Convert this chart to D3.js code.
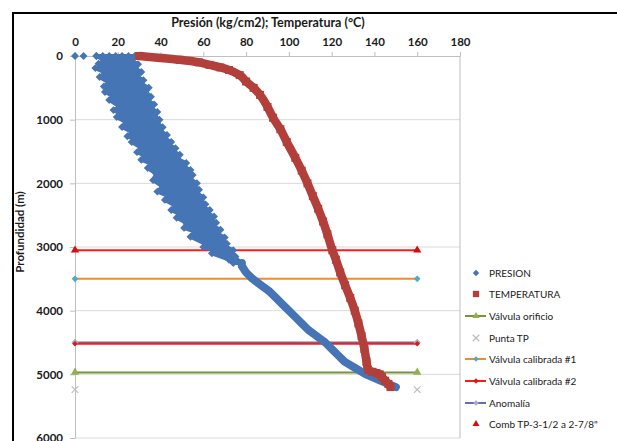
<!DOCTYPE html>
<html>
<head>
<meta charset="utf-8">
<script src="https://cdn.jsdelivr.net/npm/d3@7"></script>
<style>
  html, body { margin: 0; padding: 0; background: #fff; }
  svg { display: block; font-family: Lato, "Liberation Sans", Arial, sans-serif; }
</style>
</head>
<body>
<svg id="chart" width="617" height="441"></svg>
<script>
// Axis ticks
const xTicks = [0, 20, 40, 60, 80, 100, 120, 140, 160, 180];
const yTicks = [0, 1000, 2000, 3000, 4000, 5000, 6000];

// PRESION: surface readings at 0 m
const presionSupProf = [0, 0, 0, 0, 0, 0, 0, 0, 0];
const presionSupVal  = [0, 4, 10, 13, 16, 19, 22, 25, 28];

// PRESION: low side of the oscillating readings, 0-3250 m
const bajaProf = [0, 70, 120, 160, 190, 260, 330, 420, 480, 530, 565, 630, 690, 800, 850, 920, 960, 1040, 1115, 1200,
                  1260, 1310, 1350, 1440, 1510, 1570, 1630, 1700, 1760, 1850, 1950, 2050, 2130, 2200, 2260, 2350, 2420, 2480,
                  2540, 2620, 2700, 2760, 2840, 2950, 3000, 3050, 3100, 3200, 3250];
const bajaVal  = [10, 14, 11, 14, 9.5, 14, 11.5, 16, 13.5, 17, 14, 18, 16, 21, 18, 22, 19.5, 24, 22, 27,
                  24.5, 28, 26.5, 31, 29, 33, 31, 36, 34, 38, 36.5, 41, 38.5, 44, 42, 47, 45, 49,
                  47.5, 52, 51, 56, 54, 61, 60, 65, 64, 72, 74];

// PRESION: high side of the oscillating readings, 0-3250 m
const altaProf = [0, 70, 130, 190, 250, 320, 380, 440, 500, 570, 640, 700, 760, 820, 880, 940, 1000, 1060, 1120, 1180,
                  1240, 1300, 1350, 1400, 1450, 1500, 1550, 1620, 1680, 1740, 1790, 1830, 1870, 1940, 2000, 2050, 2100, 2160,
                  2220, 2280, 2330, 2380, 2420, 2470, 2520, 2570, 2620, 2680, 2730, 2790, 2850, 2900, 2950, 3000, 3050, 3100,
                  3150, 3200, 3250];
const altaVal  = [28.5, 26.5, 29.5, 28, 31, 29, 32, 31, 34.5, 33, 35.5, 34, 37, 35.5, 38.5, 37, 39.5, 38.5, 41, 40,
                  43, 42, 45, 44, 47, 46, 49, 48, 52, 51, 54, 52.5, 55, 54, 57, 55.5, 58, 57,
                  60, 59, 61, 60, 63, 62, 65, 63.5, 66, 65, 68, 66.5, 70, 69, 71, 70.5, 74, 73,
                  75, 75.5, 78];

// PRESION: single trace below 3300 m
const colaProf = [3300, 3400, 3500, 3600, 3700, 3800, 3900, 4000, 4100, 4200, 4300, 4400, 4500, 4600, 4700, 4800, 4900, 5000, 5100, 5200];
const colaVal  = [78, 80, 83, 87, 91, 94, 97, 100, 103, 106, 109, 113, 117, 120, 123, 126, 131, 136, 143, 150];

// TEMPERATURA
const tempProf = [0, 30, 60, 100, 140, 180, 220, 300, 400, 500, 610, 800, 970, 1150, 1350, 1600, 1800, 2000, 2200, 2400,
                  2600, 2800, 3050, 3200, 3400, 3600, 3800, 4000, 4200, 4400, 4600, 4800, 4930, 4960, 4980, 5000, 5040, 5100, 5150, 5200];
const tempVal  = [30, 40, 49, 58, 63, 68, 72, 77, 80, 83.5, 86.5, 90, 92.6, 96, 99, 103, 106, 108.7, 111.2, 113.7,
                  116, 118, 120.3, 122, 124, 126.3, 128.7, 130.8, 132.5, 134, 135.3, 136.3, 137, 139, 141, 142.5, 143.5, 145, 146.5, 147.5];

// Reference depths (m), drawn from 0 to 160 on the x scale
const refNombres = ["Comb TP-3-1/2 a 2-7/8\"", "Válvula calibrada #1", "Anomalía", "Válvula calibrada #2", "Válvula orificio", "Punta TP"];
const refProf    = [3050, 3500, 4500, 4520, 4970, 5240];
const refX       = [0, 160];

const legendNames = ["PRESION", "TEMPERATURA", "Válvula orificio", "Punta TP", "Válvula calibrada #1",
                     "Válvula calibrada #2", "Anomalía", "Comb TP-3-1/2 a 2-7/8\""];

const C = {
  presion: "#4675b5",
  temp: "#b33f3b",
  orificioLine: "#77933c", orificioMark: "#8fb04a",
  punta: "#bdbdbd",
  cal1Line: "#f38b2a", cal1Mark: "#4bacc6",
  cal2Line: "#ff1a1a", cal2Mark: "#d0201a",
  anomLine: "#5a74b0", anomMark: "#b0a4d2",
  comb: "#d01010",
  grid: "#d9d9d9", axis: "#bfbfbf", text: "#1a1a1a"
};

const svg = d3.select("#chart");

// outer frame of the chart object
svg.append("rect").attr("x", 13).attr("y", 13).attr("width", 700).attr("height", 500)
  .attr("fill", "#fff").attr("stroke", "#000").attr("stroke-width", 2);

const x = d3.scaleLinear().domain([0, 180]).range([75, 460]);
const y = d3.scaleLinear().domain([0, 6000]).range([56, 438]);

// horizontal gridlines
svg.append("g").selectAll("line").data(yTicks.slice(1)).join("line")
  .attr("x1", x(0)).attr("x2", x(180))
  .attr("y1", d => y(d)).attr("y2", d => y(d))
  .attr("stroke", C.grid).attr("stroke-width", 1);

// plot right border
svg.append("line").attr("x1", x(180)).attr("x2", x(180)).attr("y1", y(0)).attr("y2", y(6000))
  .attr("stroke", C.axis);

// top axis
const xAxis = svg.append("g").attr("transform", `translate(0,${y(0)})`)
  .call(d3.axisTop(x).tickValues(xTicks).tickSize(4).tickSizeOuter(0).tickPadding(6));
xAxis.select(".domain").attr("stroke", C.axis);
xAxis.selectAll(".tick line").attr("stroke", C.axis);
xAxis.selectAll("text").attr("font-size", 11.5).attr("font-weight", "bold").attr("fill", C.text)
  .attr("font-family", "Lato, sans-serif");

// left axis
const yAxis = svg.append("g").attr("transform", `translate(${x(0)},0)`)
  .call(d3.axisLeft(y).tickValues(yTicks).tickSize(5).tickSizeOuter(0).tickPadding(7).tickFormat(d3.format("d")));
yAxis.select(".domain").attr("stroke", C.axis);
yAxis.selectAll(".tick line").attr("stroke", C.axis);
yAxis.selectAll("text").attr("font-size", 11.5).attr("font-weight", "bold").attr("fill", C.text)
  .attr("font-family", "Lato, sans-serif");

// axis titles
svg.append("text").attr("x", 268).attr("y", 27).attr("text-anchor", "middle")
  .attr("font-size", 12.5).attr("font-weight", "bold").attr("fill", C.text)
  .text("Presión (kg/cm2); Temperatura (°C)");
svg.append("text").attr("transform", "translate(24,232) rotate(-90)").attr("text-anchor", "middle")
  .attr("font-size", 11.5).attr("font-weight", "bold").attr("fill", C.text)
  .text("Profundidad (m)");

const diamond = d3.symbol().type(d3.symbolDiamond2);
const square = d3.symbol().type(d3.symbolSquare);
const tri = d3.symbol().type(d3.symbolTriangle);
const cross = d3.symbol().type(d3.symbolX);

// reference lines
const refStyle = {
  "Comb TP-3-1/2 a 2-7/8\"": {line: C.cal2Line, mark: C.comb, sym: tri, size: 30},
  "Válvula calibrada #1": {line: C.cal1Line, mark: C.cal1Mark, sym: diamond, size: 28},
  "Anomalía": {line: C.anomLine, mark: C.anomMark, sym: diamond, size: 34},
  "Válvula calibrada #2": {line: C.cal2Line, mark: C.cal2Mark, sym: diamond, size: 20},
  "Válvula orificio": {line: C.orificioLine, mark: C.orificioMark, sym: tri, size: 30},
  "Punta TP": {line: null, mark: C.punta, sym: cross, size: 30}
};
const refG = svg.append("g");
refNombres.forEach((n, i) => {
  const st = refStyle[n];
  const d = refProf[i];
  if (st.line) {
    refG.append("line").attr("x1", x(refX[0])).attr("x2", x(refX[1]))
      .attr("y1", y(d)).attr("y2", y(d)).attr("stroke", st.line).attr("stroke-width", 2);
  }
});
refNombres.forEach((n, i) => {
  const st = refStyle[n];
  const d = refProf[i];
  refX.forEach(v => {
    const p = refG.append("path").attr("d", st.sym.size(st.size)())
      .attr("transform", `translate(${x(v)},${y(d)})`);
    if (st.sym === cross) p.attr("fill", "none").attr("stroke", st.mark).attr("stroke-width", 1.2);
    else p.attr("fill", st.mark);
  });
});

// PRESION: band outline (low side down, high side back up), tail trace and markers
const baja = bajaProf.map((d, i) => [bajaVal[i], d]);
const alta = altaProf.map((d, i) => [altaVal[i], d]);
const cola = colaProf.map((d, i) => [colaVal[i], d]);
const sup = presionSupProf.map((d, i) => [presionSupVal[i], d]);
const pLine = d3.line().x(p => x(p[0])).y(p => y(p[1]));

const presG = svg.append("g");
presG.append("path")
  .attr("d", pLine(baja.concat(alta.slice().reverse())) + "Z")
  .attr("fill", C.presion).attr("stroke", C.presion).attr("stroke-width", 4)
  .attr("stroke-linejoin", "round");
presG.append("path")
  .attr("d", pLine([alta[alta.length - 1]].concat(cola)))
  .attr("fill", "none").attr("stroke", C.presion).attr("stroke-width", 8)
  .attr("stroke-linejoin", "round").attr("stroke-linecap", "round");
presG.selectAll("path.m").data(sup.concat(baja, alta, cola)).join("path").attr("class", "m")
  .attr("d", diamond.size(40)())
  .attr("transform", p => `translate(${x(p[0])},${y(p[1])})`)
  .attr("fill", C.presion);

// TEMPERATURA series
const temp = tempProf.map((d, i) => [tempVal[i], d]);
const tempG = svg.append("g");
tempG.append("path")
  .attr("d", d3.line().curve(d3.curveMonotoneY).x(p => x(p[0])).y(p => y(p[1]))(temp))
  .attr("fill", "none").attr("stroke", C.temp).attr("stroke-width", 8.5)
  .attr("stroke-linejoin", "round");
tempG.selectAll("path.m").data(temp).join("path").attr("class", "m")
  .attr("d", square.size(64)())
  .attr("transform", p => `translate(${x(p[0])},${y(p[1])})`)
  .attr("fill", C.temp);

// legend
const legY = [273, 294, 316, 338, 359, 381, 403, 424];
const legSym = [
  {mark: C.presion, sym: diamond, size: 26},
  {mark: C.temp, sym: square, size: 40},
  {line: C.orificioLine, mark: C.orificioMark, sym: tri, size: 22},
  {mark: C.punta, sym: cross, size: 30},
  {line: C.cal1Line, mark: C.cal1Mark, sym: diamond, size: 20},
  {line: C.cal2Line, mark: C.cal2Mark, sym: diamond, size: 20},
  {line: C.anomLine, mark: C.anomMark, sym: diamond, size: 20},
  {mark: C.comb, sym: tri, size: 22}
];
const leg = svg.append("g");
legendNames.forEach((n, i) => {
  const s = legSym[i];
  const cy = legY[i];
  if (s.line) leg.append("line").attr("x1", 465).attr("x2", 486).attr("y1", cy).attr("y2", cy)
    .attr("stroke", s.line).attr("stroke-width", 2);
  const p = leg.append("path").attr("d", s.sym.size(s.size)()).attr("transform", `translate(476,${cy})`);
  if (s.sym === cross) p.attr("fill", "none").attr("stroke", s.mark).attr("stroke-width", 1.2);
  else p.attr("fill", s.mark);
  leg.append("text").attr("x", 489).attr("y", cy).attr("dy", "0.35em")
    .attr("font-size", 10).attr("fill", C.text).text(n);
});
</script>
</body>
</html>
